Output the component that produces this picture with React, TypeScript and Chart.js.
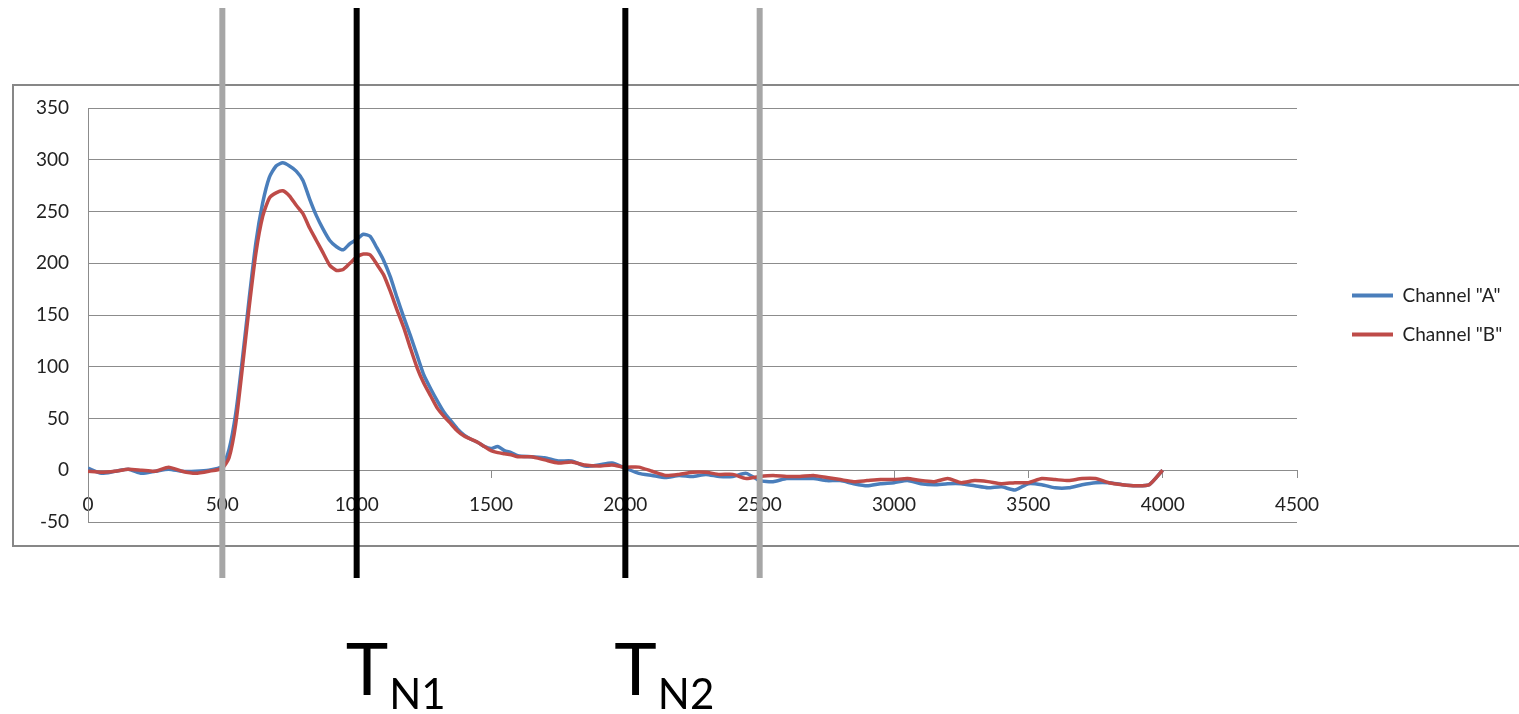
import React, { useEffect, useRef } from 'react';
import { Chart, registerables } from 'chart.js';

Chart.register(...registerables);

// ---- data ----
const xValues = [
  0, 50, 100, 150, 200, 250, 300, 350, 400, 450, 500,
  525, 550, 575, 600, 625, 650, 675, 700, 725, 750, 775, 800, 825, 850, 875, 900, 925, 950, 975,
  1000, 1025, 1050, 1075, 1100, 1125, 1150, 1175, 1200, 1225, 1250, 1275, 1300, 1325, 1350, 1375,
  1400, 1425, 1450, 1475, 1500, 1525, 1550, 1575, 1600,
  1650, 1700, 1750, 1800, 1850, 1900, 1950, 2000,
  2050, 2100, 2150, 2200, 2250, 2300, 2350, 2400, 2450, 2500,
  2550, 2600, 2650, 2700, 2750, 2800, 2850, 2900, 2950, 3000,
  3050, 3100, 3150, 3200, 3250, 3300, 3350, 3400, 3450, 3500,
  3550, 3600, 3650, 3700, 3750, 3800, 3850, 3900, 3950, 4000,
];

const channelA = [
  2, -3, -1, 1, -3, -1, 1, -1, -1, 0, 4,
  20, 55, 108, 166, 220, 258, 283, 294, 297, 294, 289, 280, 262, 246, 233, 222, 216, 213, 219,
  223, 228, 226, 215, 203, 187, 167, 148, 130, 111, 92, 79, 67, 56, 48, 40,
  34, 30, 27, 23, 21, 23, 19, 17, 14,
  13, 12, 9, 9, 4, 5, 7, 2,
  -3, -5, -7, -5, -6, -4, -6, -6, -3, -10,
  -11, -8, -8, -8, -10, -10, -13, -15, -13, -12,
  -10, -13, -14, -13, -13, -15, -17, -16, -19, -13,
  -14, -17, -17, -14, -12, -12, -14, -15, -14, 0,
];

const channelB = [
  -1, -2, -1, 1, 0, -1, 3, -1, -3, -1, 2,
  12, 45, 100, 158, 210, 245, 263, 268, 270, 265, 256, 248, 234, 222, 210, 198, 193, 194, 200,
  206, 209, 208, 199, 189, 173, 155, 138, 118, 99, 84, 72, 60, 52, 45, 38,
  33, 30, 27, 23, 19, 17, 16, 15, 13,
  13, 10, 7, 8, 5, 4, 5, 3,
  3, -1, -5, -4, -2, -2, -4, -4, -8, -6,
  -5, -6, -6, -5, -7, -9, -11, -10, -9, -9,
  -8, -10, -11, -8, -12, -10, -11, -13, -12, -12,
  -8, -9, -10, -8, -8, -12, -14, -15, -14, 0,
];

const seriesNames = ['Channel "A"', 'Channel "B"'];
const seriesColors = ['#4a7ebb', '#be4b48'];

const markerValues = [500, 1000, 2000, 2500];
const markerColors = ['#a6a6a6', '#000000', '#000000', '#a6a6a6'];
const markerSubscripts = ['', 'N1', 'N2', ''];

const FONT = 'Lato, "Open Sans", sans-serif';

const overlayPlugin = {
  id: 'overlay',
  beforeLayout(chart: any) {
    const lg = chart.legend;
    if (lg && !lg.__wrapped) {
      const orig = lg.fit;
      lg.fit = function () {
        orig.call(this);
        this.width = 222;
      };
      lg.__wrapped = true;
    }
  },
  afterLayout(chart: any) {
    const lg = chart.legend;
    if (lg) {
      lg.left = chart.chartArea.right + 35;
      lg.right = lg.left + lg.width;
    }
  },
  beforeDraw(chart: any) {
    const ctx = chart.ctx;
    ctx.save();
    ctx.fillStyle = '#ffffff';
    ctx.fillRect(0, 0, chart.width, chart.height);
    ctx.strokeStyle = '#878787';
    ctx.lineWidth = 2;
    ctx.strokeRect(13, 85, chart.width + 20, 461);
    ctx.restore();
  },
  afterDraw(chart: any) {
    const ctx = chart.ctx;
    const xs = chart.scales.x;
    ctx.save();
    markerValues.forEach((v, i) => {
      const px = xs.getPixelForValue(v);
      ctx.strokeStyle = markerColors[i];
      ctx.lineWidth = 6;
      ctx.beginPath();
      ctx.moveTo(px, 8);
      ctx.lineTo(px, 578);
      ctx.stroke();
      const sub = markerSubscripts[i];
      if (sub) {
        ctx.fillStyle = '#000000';
        ctx.textBaseline = 'alphabetic';
        ctx.textAlign = 'left';
        ctx.font = '72px ' + FONT;
        const tx = px - 11;
        ctx.fillText('T', tx, 695);
        const tw = ctx.measureText('T').width;
        ctx.font = '42px ' + FONT;
        ctx.fillText(sub, tx + tw + 1, 709);
      }
    });
    ctx.restore();
  },
};

export default function App() {
  const ref = useRef<HTMLCanvasElement | null>(null);

  useEffect(() => {
    if (!ref.current) return;
    const mk = (vals: number[]) => xValues.map((x, i) => ({ x, y: vals[i] }));
    const chart = new Chart(ref.current, {
      type: 'line',
      data: {
        datasets: [
          {
            label: seriesNames[0],
            data: mk(channelA),
            borderColor: seriesColors[0],
            backgroundColor: seriesColors[0],
            borderWidth: 3.5,
            pointRadius: 0,
            tension: 0.2,
            order: 1,
          },
          {
            label: seriesNames[1],
            data: mk(channelB),
            borderColor: seriesColors[1],
            backgroundColor: seriesColors[1],
            borderWidth: 3.5,
            pointRadius: 0,
            tension: 0.2,
            order: 0,
          },
        ],
      },
      options: {
        animation: false,
        responsive: false,
        layout: { padding: { top: 108, bottom: 192, left: 0, right: 0 } },
        plugins: {
          tooltip: { enabled: false },
          legend: {
            position: 'right',
            align: 'center',
            labels: {
              boxWidth: 41,
              boxHeight: 4,
              padding: 20,
              color: '#222222',
              font: { family: FONT, size: 19, lineHeight: 1 },
              sort: (a: any, b: any) => a.datasetIndex - b.datasetIndex,
              generateLabels: (c: any) =>
                (Chart.defaults.plugins.legend.labels as any)
                  .generateLabels(c)
                  .map((l: any) => ({ ...l, lineWidth: 0 })),
            },
          },
        },
        scales: {
          x: {
            type: 'linear',
            position: { y: 0 } as any,
            min: 0,
            max: 4500,
            afterFit: (s: any) => {
              s.height = 0;
            },
            ticks: {
              stepSize: 500,
              padding: 16,
              color: '#222222',
              font: { family: FONT, size: 19 },
              maxRotation: 0,
              callback: (v: any) => String(v),
            },
            grid: {
              drawOnChartArea: false,
              drawTicks: true,
              tickLength: 7,
              color: '#8c8c8c',
              lineWidth: 1,
            },
            border: { display: true, color: '#8c8c8c', width: 1 },
          },
          y: {
            type: 'linear',
            min: -50,
            max: 350,
            afterFit: (s: any) => {
              s.width = 88;
            },
            ticks: {
              stepSize: 50,
              padding: 19,
              color: '#222222',
              font: { family: FONT, size: 19 },
              callback: (v: any) => String(v),
            },
            grid: {
              drawTicks: false,
              color: '#8c8c8c',
              lineWidth: 1,
            },
            border: { display: true, color: '#8c8c8c', width: 1 },
          },
        },
      },
      plugins: [overlayPlugin],
    });
    return () => chart.destroy();
  }, []);

  return (
    <div style={{ position: 'absolute', left: 0, top: 0, width: 1519, height: 714 }}>
      <canvas ref={ref} width={1519} height={714} style={{ display: 'block' }} />
    </div>
  );
}
